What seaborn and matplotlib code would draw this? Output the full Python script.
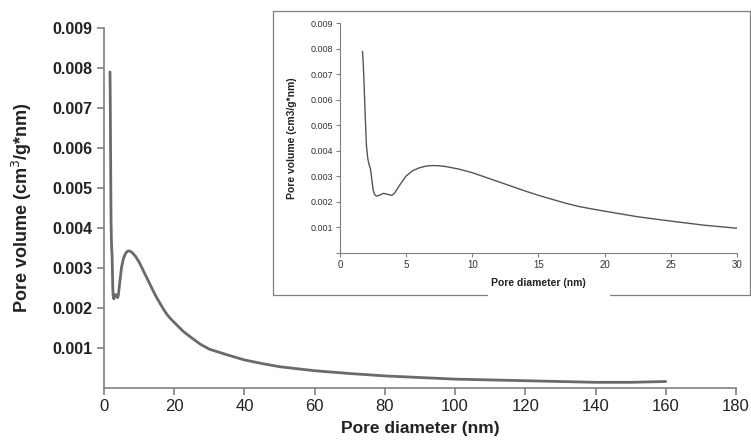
import matplotlib.pyplot as plt
from matplotlib.lines import Line2D
import seaborn as sns

# pore size distribution
diameter = [1.7, 1.75, 1.8, 1.85, 1.9, 1.95, 2.0, 2.1, 2.2, 2.3, 2.4, 2.5, 2.6, 2.7,
            2.8, 3.0, 3.3, 3.6, 3.9, 4.1, 4.3, 4.6, 5.0, 5.5, 6.0, 6.5, 7.0, 7.5, 8.0,
            9.0, 10, 11, 12, 13, 14, 15, 16, 17, 18, 19, 20, 22.5, 25, 27.5, 30, 35,
            40, 45, 50, 55, 60, 70, 80, 90, 100, 110, 120, 130, 140, 150, 160]
volume = [0.0079, 0.0075, 0.0069, 0.0062, 0.0055, 0.0048, 0.0042, 0.0037, 0.00345,
          0.0033, 0.0029, 0.00248, 0.0023, 0.00224, 0.00222, 0.00226, 0.00233,
          0.00229, 0.00225, 0.00232, 0.00248, 0.00272, 0.00301, 0.00322, 0.00333,
          0.0034, 0.00342, 0.00341, 0.00338, 0.00328, 0.00314, 0.00296, 0.00278,
          0.0026, 0.00242, 0.00225, 0.0021, 0.00195, 0.00182, 0.00172, 0.00163,
          0.00141, 0.00124, 0.00108, 0.00096, 0.00082, 0.00069, 0.0006, 0.00052,
          0.00047, 0.00042, 0.00035, 0.00029, 0.00025, 0.00021, 0.00019, 0.00017,
          0.00015, 0.00013, 0.00013, 0.00015]

main_xticks = list(range(0, 181, 20))
inset_xticks = list(range(0, 31, 5))
yticks = [0.001, 0.002, 0.003, 0.004, 0.005, 0.006, 0.007, 0.008, 0.009]

sns.set_style('ticks')
plt.rcParams['font.family'] = ['Liberation Sans', 'DejaVu Sans']

fig = plt.figure(figsize=(7.51, 4.41), dpi=100)
spine_c = '#808080'

# main plot
ax = fig.add_axes([0.1385, 0.1213, 0.8415, 0.8152])
sns.lineplot(x=diameter, y=volume, ax=ax, color='#6a6a6a', linewidth=2)
ax.set_xlim(0, 180)
ax.set_ylim(0, 0.009)
ax.set_xticks(main_xticks)
ax.set_yticks(yticks)
ax.set_yticklabels([f'{t:.3f}' for t in yticks], fontweight='bold', fontsize=11.5,
                   color='#222222')
ax.set_xticklabels([str(t) for t in main_xticks], fontsize=12, color='#222222')
ax.set_xlabel('Pore diameter (nm)', fontweight='bold', fontsize=12.5, color='#222222',
              labelpad=5)
ax.set_ylabel('Pore volume (cm$^3$/g*nm)', fontweight='bold', fontsize=13,
              color='#222222', labelpad=13)
sns.despine(ax=ax)
for s in ['left', 'bottom']:
    ax.spines[s].set_color(spine_c)
    ax.spines[s].set_linewidth(1.2)
ax.tick_params(color=spine_c, length=5, width=1.2)

# inset
ins = fig.add_axes([0.4527, 0.427, 0.5286, 0.520])
sns.lineplot(x=diameter, y=volume, ax=ins, color='#555555', linewidth=1)
ins.set_xlim(0, 30)
ins.set_ylim(0, 0.009)
ins.set_xticks(inset_xticks)
ins.set_yticks([0] + yticks)
ins.set_yticklabels([''] + [f'{t:.3f}' for t in yticks], fontsize=6.5, color='#333333')
ins.set_xticklabels([str(t) for t in inset_xticks], fontsize=7, color='#333333')
ins.set_xlabel('Pore diameter (nm)', fontweight='bold', fontsize=7.5, color='#222222',
               labelpad=6)
ins.set_ylabel('Pore volume (cm3/g*nm)', fontweight='bold', fontsize=7.5,
               color='#222222', labelpad=10)
ins.patch.set_alpha(0)
sns.despine(ax=ins)
for s in ['left', 'bottom']:
    ins.spines[s].set_color(spine_c)
    ins.spines[s].set_linewidth(0.8)
ins.tick_params(color=spine_c, length=3, width=0.8, pad=2)

# frame around the inset, with the gap below its label
W, H = 751, 441
fl, fr, ft, fb = 273 / W, 750 / W, 1 - 11 / H, 1 - 295 / H
g0, g1 = 487 / W, 610 / W
for xs, ys in [([fl, fl], [fb, ft]), ([fl, fr], [ft, ft]), ([fr, fr], [ft, fb]),
               ([fl, g0], [fb, fb]), ([g1, fr], [fb, fb])]:
    fig.add_artist(Line2D(xs, ys, color=spine_c, linewidth=0.9))

fig.savefig('out.png', dpi=100)
